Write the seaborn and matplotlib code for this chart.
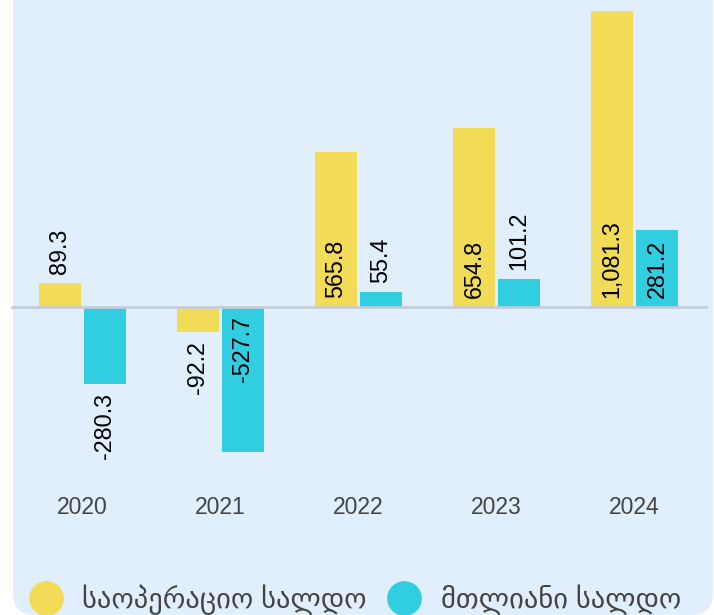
import pandas as pd
import matplotlib.pyplot as plt
import seaborn as sns
from matplotlib.lines import Line2D
from matplotlib.patches import FancyBboxPatch
from matplotlib.transforms import IdentityTransform

years = ["2020", "2021", "2022", "2023", "2024"]
series_names = ["საოპერაციო სალდო", "მთლიანი სალდო"]
operating = [89.3, -92.2, 565.8, 654.8, 1081.3]
overall = [-280.3, -527.7, 55.4, 101.2, 281.2]
colors = ["#F2DB57", "#31CDE0"]

df = pd.DataFrame({
    "year": years * 2,
    "series": [series_names[0]] * 5 + [series_names[1]] * 5,
    "value": operating + overall,
})

sns.set_style("white")
plt.rcParams["font.family"] = ["Liberation Sans", "DejaVu Sans"]

fig = plt.figure(figsize=(7.14, 6.15), dpi=100)
fig.patch.set_facecolor("white")

# light blue card behind everything (pixel coords)
card = FancyBboxPatch((13, 0), 700, 660, boxstyle="round,pad=0,rounding_size=22",
                      transform=IdentityTransform(), facecolor="#E1EFFC",
                      edgecolor="none", zorder=-10)
fig.patches.append(card)

ax = fig.add_axes([11 / 714, 1 - 470 / 615, 697 / 714, 470 / 615])
ax.set_facecolor("none")
ax.set_zorder(1)

sns.barplot(data=df, x="year", y="value", hue="series", hue_order=series_names,
            palette=colors, width=0.652, gap=0.067, saturation=1, ax=ax,
            legend=False, linewidth=0, edgecolor="none", zorder=2)

ax.set_xlim(-0.518, 4.533)
ax.set_ylim(-595, 1121)
ax.axhline(0, color="#C3CCD8", lw=1.9, zorder=3)

for spine in ax.spines.values():
    spine.set_visible(False)
ax.set_yticks([])
ax.set_xlabel("")
ax.set_ylabel("")
ax.tick_params(axis="x", length=0, pad=19, labelsize=16.5, labelcolor="#444444")

for container in ax.containers:
    for bar in container:
        v = bar.get_height()
        if v == 0:
            continue
        x = bar.get_x() + bar.get_width() / 2
        inside = v > 200 or v < -400
        if v > 0:
            y = 0 if inside else v
            off, va = 6.5, "bottom"
        else:
            y = 0 if inside else v
            off, va = -6.5, "top"
        ax.annotate(f"{v:,.1f}", (x, y), xytext=(0, off), textcoords="offset points",
                    rotation=90, ha="center", va=va, fontsize=16.8, color="black",
                    zorder=4)

handles = [Line2D([], [], marker="o", linestyle="", markersize=24,
                  markerfacecolor=c, markeredgecolor=c) for c in colors]
leg = fig.legend(handles, series_names, loc="center left",
                 bbox_to_anchor=(28.5 / 714, 15 / 615), ncol=2, frameon=False,
                 fontsize=20.5, labelcolor="#444444", handlelength=1.2,
                 handletextpad=0.68, columnspacing=0.73, borderaxespad=0, borderpad=0)
leg.set_zorder(5)

fig.savefig("out.png", dpi=100, facecolor="white")
